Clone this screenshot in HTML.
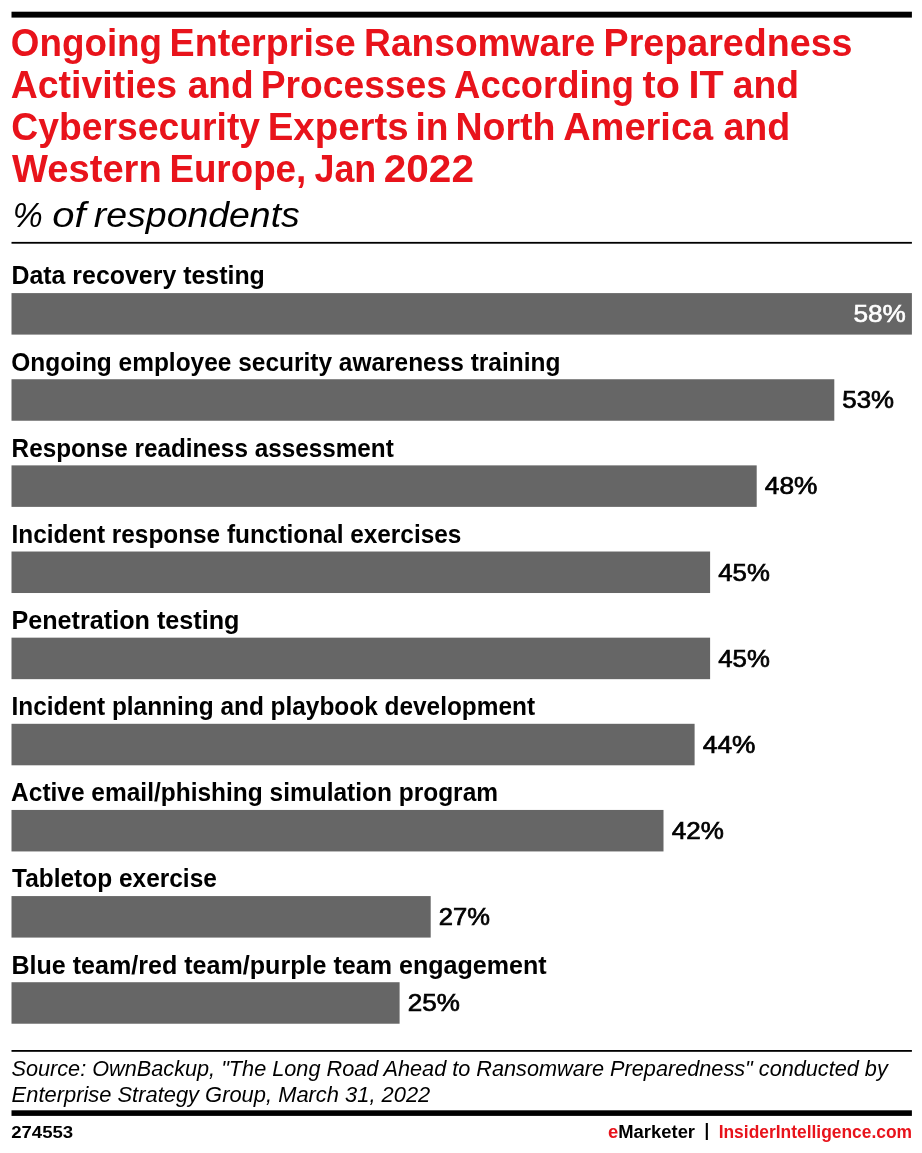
<!DOCTYPE html>
<html lang="en"><head><meta charset="utf-8"><title>Ongoing Enterprise Ransomware Preparedness Activities and Processes</title>
<style>
html,body{margin:0;padding:0;background:#fff;}
body{width:922px;height:1153px;position:relative;overflow:hidden;font-family:"Liberation Sans",sans-serif;}
.t{position:absolute;left:0;white-space:nowrap;line-height:1;transform-origin:0 0;margin:0;padding:0;}
.g{position:absolute;left:0;top:0;display:block;}
.w{margin:0;padding:0;font:inherit;display:block;}
</style></head><body>
<svg class="g" width="922" height="1153" viewBox="0 0 922 1153" aria-hidden="true">
<rect x="11.5" y="11.7" width="900.4" height="5.9" fill="#000"/>
<rect x="11.5" y="241.9" width="900.4" height="1.8" fill="#000"/>
<rect x="11.5" y="293.10" width="900.4" height="41.5" fill="#666666"/>
<rect x="11.5" y="379.24" width="822.8" height="41.5" fill="#666666"/>
<rect x="11.5" y="465.38" width="745.2" height="41.5" fill="#666666"/>
<rect x="11.5" y="551.52" width="698.6" height="41.5" fill="#666666"/>
<rect x="11.5" y="637.66" width="698.6" height="41.5" fill="#666666"/>
<rect x="11.5" y="723.80" width="683.1" height="41.5" fill="#666666"/>
<rect x="11.5" y="809.94" width="652.0" height="41.5" fill="#666666"/>
<rect x="11.5" y="896.08" width="419.2" height="41.5" fill="#666666"/>
<rect x="11.5" y="982.22" width="388.1" height="41.5" fill="#666666"/>
<rect x="11.5" y="1050" width="900.4" height="1.8" fill="#000"/>
<rect x="11.5" y="1110.3" width="900.4" height="5.6" fill="#000"/>
</svg>
<h1 class="w">
<span class="t ttl" style="top:24.33px;font-size:38px;color:#e8131b;font-weight:bold;transform:translateX(10.87px) scaleX(0.9681);">Ongoing </span>
<span class="t ttl" style="top:24.33px;font-size:38px;color:#e8131b;font-weight:bold;transform:translateX(169.53px) scaleX(0.9907);">Enterprise </span>
<span class="t ttl" style="top:24.33px;font-size:38px;color:#e8131b;font-weight:bold;transform:translateX(364.10px) scaleX(0.9772);">Ransomware </span>
<span class="t ttl" style="top:24.33px;font-size:38px;color:#e8131b;font-weight:bold;transform:translateX(603.53px) scaleX(0.9906);">Preparedness</span>
<span class="t ttl" style="top:66.03px;font-size:38px;color:#e8131b;font-weight:bold;transform:translateX(10.78px) scaleX(0.9848);">Activities </span>
<span class="t ttl" style="top:66.03px;font-size:38px;color:#e8131b;font-weight:bold;transform:translateX(187.64px) scaleX(0.9757);">and </span>
<span class="t ttl" style="top:66.03px;font-size:38px;color:#e8131b;font-weight:bold;transform:translateX(260.71px) scaleX(0.9794);">Processes </span>
<span class="t ttl" style="top:66.03px;font-size:38px;color:#e8131b;font-weight:bold;transform:translateX(454.12px) scaleX(0.9576);">According </span>
<span class="t ttl" style="top:66.03px;font-size:38px;color:#e8131b;font-weight:bold;transform:translateX(642.62px) scaleX(1.0400);">to </span>
<span class="t ttl" style="top:66.03px;font-size:38px;color:#e8131b;font-weight:bold;transform:translateX(688.50px) scaleX(1.0423);">IT </span>
<span class="t ttl" style="top:66.03px;font-size:38px;color:#e8131b;font-weight:bold;transform:translateX(732.68px) scaleX(0.9799);">and</span>
<span class="t ttl" style="top:107.73px;font-size:38px;color:#e8131b;font-weight:bold;transform:translateX(11.31px) scaleX(0.9815);">Cybersecurity </span>
<span class="t ttl" style="top:107.73px;font-size:38px;color:#e8131b;font-weight:bold;transform:translateX(267.74px) scaleX(1.0105);">Experts </span>
<span class="t ttl" style="top:107.73px;font-size:38px;color:#e8131b;font-weight:bold;transform:translateX(415.43px) scaleX(0.9771);">in </span>
<span class="t ttl" style="top:107.73px;font-size:38px;color:#e8131b;font-weight:bold;transform:translateX(455.46px) scaleX(0.9872);">North </span>
<span class="t ttl" style="top:107.73px;font-size:38px;color:#e8131b;font-weight:bold;transform:translateX(563.15px) scaleX(1.0002);">America </span>
<span class="t ttl" style="top:107.73px;font-size:38px;color:#e8131b;font-weight:bold;transform:translateX(723.46px) scaleX(0.9892);">and</span>
<span class="t ttl" style="top:150.43px;font-size:38px;color:#e8131b;font-weight:bold;transform:translateX(12.12px) scaleX(1.0021);">Western </span>
<span class="t ttl" style="top:150.43px;font-size:38px;color:#e8131b;font-weight:bold;transform:translateX(169.39px) scaleX(0.9676);">Europe, </span>
<span class="t ttl" style="top:150.43px;font-size:38px;color:#e8131b;font-weight:bold;transform:translateX(314.55px) scaleX(0.9422);">Jan </span>
<span class="t ttl" style="top:150.43px;font-size:38px;color:#e8131b;font-weight:bold;transform:translateX(383.72px) scaleX(1.0678);">2022</span>
</h1>
<p class="w">
<span class="t sub" style="top:197.79px;font-size:34.5px;color:#000000;font-style:italic;transform:translateX(12.67px) scaleX(0.9752);">% </span>
<span class="t sub" style="top:197.79px;font-size:34.5px;color:#000000;font-style:italic;transform:translateX(52.23px) scaleX(1.1573);">of </span>
<span class="t sub" style="top:197.79px;font-size:34.5px;color:#000000;font-style:italic;transform:translateX(93.84px) scaleX(1.0846);">respondents</span>
</p>
<section class="w">
<span class="t lab" style="top:263.33px;font-size:25px;color:#000000;font-weight:bold;transform:translateX(11.43px) scaleX(0.9965);">Data recovery testing</span>
<span class="t val" style="top:302.44px;font-size:24.4px;color:#ffffff;transform:translateX(853.40px) scaleX(1.0741);-webkit-text-stroke:0.6px #ffffff;">58%</span>
<span class="t lab" style="top:350.47px;font-size:25px;color:#000000;font-weight:bold;transform:translateX(11.24px) scaleX(0.9783);">Ongoing employee security awareness training</span>
<span class="t val" style="top:387.75px;font-size:24.2px;color:#000000;transform:translateX(842.28px) scaleX(1.0685);-webkit-text-stroke:0.7px #000000;">53%</span>
<span class="t lab" style="top:435.61px;font-size:25px;color:#000000;font-weight:bold;transform:translateX(11.59px) scaleX(0.9718);">Response readiness assessment</span>
<span class="t val" style="top:473.89px;font-size:24.2px;color:#000000;transform:translateX(764.80px) scaleX(1.0856);-webkit-text-stroke:0.7px #000000;">48%</span>
<span class="t lab" style="top:521.75px;font-size:25px;color:#000000;font-weight:bold;transform:translateX(11.56px) scaleX(0.9751);">Incident response functional exercises</span>
<span class="t val" style="top:561.03px;font-size:24.2px;color:#000000;transform:translateX(718.28px) scaleX(1.0643);-webkit-text-stroke:0.7px #000000;">45%</span>
<span class="t lab" style="top:607.89px;font-size:25px;color:#000000;font-weight:bold;transform:translateX(11.41px) scaleX(1.0070);">Penetration testing</span>
<span class="t val" style="top:647.17px;font-size:24.2px;color:#000000;transform:translateX(718.28px) scaleX(1.0643);-webkit-text-stroke:0.7px #000000;">45%</span>
<span class="t lab" style="top:694.03px;font-size:25px;color:#000000;font-weight:bold;transform:translateX(11.56px) scaleX(0.9764);">Incident planning and playbook development</span>
<span class="t val" style="top:733.31px;font-size:24.2px;color:#000000;transform:translateX(702.86px) scaleX(1.0858);-webkit-text-stroke:0.7px #000000;">44%</span>
<span class="t lab" style="top:780.17px;font-size:25px;color:#000000;font-weight:bold;transform:translateX(11.09px) scaleX(0.9791);">Active email/phishing simulation program</span>
<span class="t val" style="top:819.45px;font-size:24.2px;color:#000000;transform:translateX(671.80px) scaleX(1.0750);-webkit-text-stroke:0.7px #000000;">42%</span>
<span class="t lab" style="top:866.31px;font-size:25px;color:#000000;font-weight:bold;transform:translateX(12.04px) scaleX(0.9784);">Tabletop exercise</span>
<span class="t val" style="top:904.59px;font-size:24.2px;color:#000000;transform:translateX(438.87px) scaleX(1.0563);-webkit-text-stroke:0.7px #000000;">27%</span>
<span class="t lab" style="top:953.45px;font-size:25px;color:#000000;font-weight:bold;transform:translateX(11.40px) scaleX(1.0034);">Blue team/red team/purple team engagement</span>
<span class="t val" style="top:990.73px;font-size:24.2px;color:#000000;transform:translateX(407.78px) scaleX(1.0756);-webkit-text-stroke:0.7px #000000;">25%</span>
</section>
<p class="w">
<span class="t src" style="top:1057.97px;font-size:21.65px;color:#000000;font-style:italic;transform:translateX(11.49px) scaleX(1.0018);">Source: OwnBackup, "The Long Road Ahead to Ransomware Preparedness" conducted by</span>
<span class="t src" style="top:1084.37px;font-size:21.65px;color:#000000;font-style:italic;transform:translateX(11.62px) scaleX(1.0118);">Enterprise Strategy Group, March 31, 2022</span>
</p>
<footer class="w">
<span class="t id" style="top:1123.87px;font-size:17.4px;color:#000000;font-weight:bold;transform:translateX(11.17px) scaleX(1.0687);">274553</span>
<span class="t em" style="top:1123.31px;font-size:18.3px;color:#000000;font-weight:bold;transform:translateX(608.03px) scaleX(1.0072);"><span style="color:#e8131b">e</span>Marketer</span>
<span class="t pipe" style="top:1121.99px;font-size:17.85px;color:#000000;font-weight:bold;transform:translateX(704.54px) scaleX(0.9340);">|</span>
<span class="t ii" style="top:1123.31px;font-size:18.3px;color:#e8131b;font-weight:bold;transform:translateX(718.65px) scaleX(0.9519);">InsiderIntelligence.com</span>
</footer>
</body></html>
